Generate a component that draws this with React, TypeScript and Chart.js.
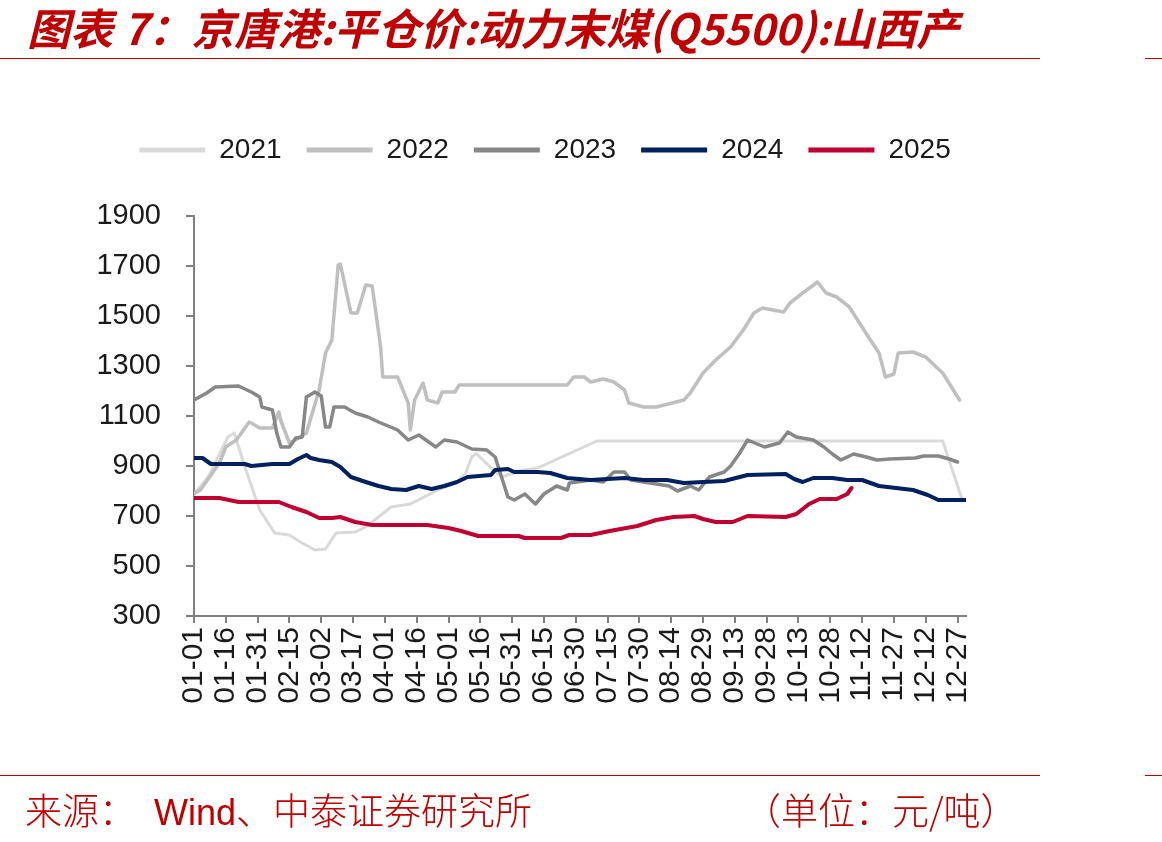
import React, { useEffect, useRef } from 'react';
import { Chart, registerables } from 'chart.js';

Chart.register(...registerables);

const tickLabels = ['01-01', '01-16', '01-31', '02-15', '03-02', '03-17', '04-01', '04-16', '05-01', '05-16', '05-31', '06-15', '06-30', '07-15', '07-30', '08-14', '08-29', '09-13', '09-28', '10-13', '10-28', '11-12', '11-27', '12-12', '12-27'];

const seriesNames = ['2021', '2022', '2023', '2024', '2025'];
const seriesColors = ['#d9d9d9', '#bfbfbf', '#878787', '#002060', '#c00030'];
const seriesWidths = [3, 3.5, 3.5, 4, 4];

const days2021 = [0, 7, 16, 19, 24, 31, 38, 45, 51, 57, 62, 67, 76, 81, 87, 93, 102, 115, 123, 128, 131, 133, 138, 145, 153, 162, 190, 353, 362];
const vals2021 = [785, 860, 1016, 1032, 896, 724, 632, 624, 592, 564, 568, 632, 636, 656, 696, 736, 748, 804, 832, 870, 936, 950, 910, 856, 880, 892, 1000, 1000, 770];

const days2022 = [0, 3, 12, 15, 20, 26, 27, 31, 37, 40, 41, 45, 49, 53, 59, 62, 65, 68, 69, 74, 77, 81, 84, 88, 89, 96, 101, 102, 104, 108, 110, 115, 117, 123, 125, 176, 179, 184, 187, 193, 198, 203, 205, 212, 218, 231, 234, 240, 246, 253, 259, 264, 268, 278, 281, 287, 294, 298, 303, 309, 312, 318, 323, 326, 330, 332, 339, 345, 353, 361];
const vals2022 = [790, 804, 912, 976, 1004, 1076, 1072, 1052, 1052, 1116, 1080, 992, 1010, 1032, 1204, 1352, 1404, 1704, 1708, 1512, 1512, 1624, 1620, 1376, 1256, 1256, 1152, 1044, 1164, 1232, 1164, 1152, 1196, 1196, 1224, 1224, 1256, 1256, 1236, 1248, 1236, 1204, 1152, 1136, 1136, 1164, 1192, 1272, 1324, 1376, 1444, 1512, 1532, 1516, 1552, 1592, 1636, 1592, 1576, 1536, 1496, 1416, 1352, 1256, 1268, 1352, 1356, 1336, 1272, 1164];

const days2023 = [0, 6, 10, 21, 27, 31, 32, 37, 39, 41, 45, 48, 51, 53, 57, 60, 62, 64, 66, 71, 76, 82, 87, 96, 101, 106, 114, 118, 124, 131, 138, 142, 145, 148, 151, 156, 161, 165, 171, 176, 177, 187, 193, 198, 203, 206, 215, 224, 228, 234, 238, 243, 250, 253, 257, 261, 269, 276, 280, 284, 292, 297, 301, 305, 311, 317, 322, 328, 340, 344, 351, 356, 360];
const vals2023 = [1164, 1192, 1216, 1220, 1196, 1176, 1136, 1124, 1032, 976, 976, 1012, 1016, 1176, 1196, 1180, 1056, 1056, 1136, 1136, 1112, 1096, 1076, 1044, 1004, 1024, 976, 1004, 996, 968, 964, 936, 856, 776, 764, 788, 748, 788, 820, 804, 832, 844, 836, 876, 876, 844, 832, 820, 800, 820, 804, 856, 876, 900, 948, 1004, 976, 992, 1036, 1016, 1004, 976, 948, 924, 948, 936, 924, 928, 932, 940, 940, 928, 916];

const days2024 = [0, 4, 8, 24, 27, 37, 45, 49, 53, 55, 59, 65, 69, 74, 81, 87, 93, 100, 106, 112, 118, 124, 129, 140, 142, 148, 151, 162, 168, 176, 187, 203, 212, 223, 231, 240, 250, 261, 279, 283, 287, 292, 301, 308, 315, 323, 331, 339, 346, 351, 364];
const vals2024 = [932, 932, 908, 908, 900, 908, 908, 928, 944, 932, 924, 916, 896, 856, 836, 820, 808, 804, 820, 808, 820, 836, 856, 864, 884, 888, 876, 876, 872, 852, 844, 852, 844, 844, 832, 836, 840, 864, 868, 848, 836, 852, 852, 844, 844, 820, 812, 804, 784, 764, 764];

const days2025 = [0, 12, 21, 40, 46, 53, 59, 65, 69, 76, 84, 110, 120, 126, 134, 153, 156, 173, 177, 187, 196, 209, 218, 226, 236, 240, 246, 254, 261, 279, 284, 290, 295, 303, 308, 310];
const vals2025 = [772, 772, 756, 756, 736, 716, 692, 692, 696, 676, 664, 664, 652, 640, 620, 620, 612, 612, 624, 624, 640, 660, 684, 696, 700, 688, 676, 676, 700, 696, 708, 748, 768, 768, 788, 812];

const allDays = [days2021, days2022, days2023, days2024, days2025];
const allVals = [vals2021, vals2022, vals2023, vals2024, vals2025];

const RED = '#c00000';
const TEXT = '#1a1a1a';
const AXIS = '#808080';
const LATIN = '"Liberation Sans", Arial, sans-serif';
const CJK = '"Noto Sans CJK SC", "Noto Sans", sans-serif';

export default function App() {
  const ref = useRef<HTMLCanvasElement | null>(null);

  useEffect(() => {
    const canvas = ref.current;
    if (!canvas) return;

    const datasets = seriesNames.map((name, i) => ({
      label: name,
      data: allDays[i].map((d, j) => ({ x: d, y: allVals[i][j] })),
      borderColor: seriesColors[i],
      backgroundColor: seriesColors[i],
      borderWidth: seriesWidths[i],
      pointRadius: 0,
      tension: 0,
      fill: false,
      borderJoinStyle: 'round' as const,
      borderCapStyle: 'round' as const,
      order: 5 - i,
    }));

    const legendGap = {
      id: 'legendGap',
      afterInit(chart: any) {
        const lg = chart.legend;
        if (!lg) return;
        const fit = lg.fit;
        lg.fit = function () {
          fit.call(this);
          this.height += 42;
        };
      },
    };

    const chart = new Chart(canvas, {
      type: 'line',
      data: { datasets },
      options: {
        animation: false,
        responsive: false,
        devicePixelRatio: 1,
        layout: { padding: { left: 90, right: 162, top: 111, bottom: 0 } },
        plugins: {
          legend: {
            display: true,
            position: 'top',
            labels: {
              boxWidth: 66,
              boxHeight: 5,
              padding: 25,
              color: TEXT,
              font: { family: LATIN, size: 28 },
              generateLabels: (c: any) =>
                c.data.datasets.map((ds: any, i: number) => ({
                  text: ds.label,
                  fillStyle: ds.borderColor,
                  strokeStyle: ds.borderColor,
                  lineWidth: 0,
                  hidden: false,
                  datasetIndex: i,
                  fontColor: TEXT,
                })),
            },
          },
          tooltip: { enabled: false },
        },
        scales: {
          x: {
            type: 'linear',
            min: 0,
            max: 364,
            afterFit: (s: any) => {
              s.height = 226;
            },
            border: { color: AXIS, width: 2 },
            grid: { drawOnChartArea: false, drawTicks: true, tickLength: 7, color: AXIS, lineWidth: 2 },
            ticks: {
              stepSize: 15,
              includeBounds: false,
              autoSkip: false,
              maxRotation: 90,
              minRotation: 90,
              padding: 4,
              color: TEXT,
              font: { family: LATIN, size: 30 },
              callback: (v: any) => {
                const k = Math.round(Number(v) / 15);
                return Number(v) % 15 === 0 ? tickLabels[k] ?? '' : '';
              },
            },
          },
          y: {
            type: 'linear',
            min: 300,
            max: 1900,
            afterFit: (s: any) => {
              s.width = 104;
            },
            border: { color: AXIS, width: 2 },
            grid: { drawOnChartArea: false, drawTicks: true, tickLength: 8, color: AXIS, lineWidth: 2 },
            ticks: {
              stepSize: 200,
              padding: 25,
              color: TEXT,
              font: { family: LATIN, size: 29 },
              callback: (v: any) => String(v),
            },
          },
          yRight: {
            type: 'linear',
            position: 'right',
            display: true,
            min: 300,
            max: 1900,
            afterFit: (s: any) => {
              s.width = 34;
            },
            border: { display: false },
            grid: { display: false },
            ticks: { display: false },
          },
        },
      } as any,
      plugins: [legendGap],
    });

    return () => chart.destroy();
  }, []);

  const line = (top: number, left: number, width: number): React.CSSProperties => ({
    position: 'absolute',
    top,
    left,
    width,
    height: 1,
    background: RED,
  });

  const foot: React.CSSProperties = {
    position: 'absolute',
    top: 791,
    fontFamily: CJK,
    fontSize: 37,
    lineHeight: '37px',
    fontWeight: 300,
    color: RED,
    whiteSpace: 'nowrap',
  };

  return (
    <div style={{ position: 'absolute', left: 0, top: 0, width: 1162, height: 842, background: '#fff', overflow: 'hidden' }}>
      <canvas ref={ref} width={1162} height={842} style={{ position: 'absolute', left: 0, top: 0, width: 1162, height: 842 }} />
      <div
        style={{
          position: 'absolute',
          left: 27,
          top: 5,
          fontFamily: CJK,
          fontSize: 43,
          lineHeight: '43px',
          fontWeight: 700,
          fontStyle: 'italic',
          color: RED,
          whiteSpace: 'nowrap',
        }}
      >
        图表 7：京唐港:平仓价:动力末煤(Q5500):山西产
      </div>
      <div style={line(58, 0, 1040)} />
      <div style={line(58, 1145, 17)} />
      <div style={line(775, 0, 1040)} />
      <div style={line(775, 1145, 17)} />
      <div style={{ ...foot, left: 25 }}>来源：</div>
      <div style={{ ...foot, left: 154 }}>
        <span style={{ fontFamily: LATIN, fontSize: 36 }}>Wind</span>、中泰证券研究所
      </div>
      <div style={{ ...foot, left: 744 }}>（单位：元/吨）</div>
    </div>
  );
}
